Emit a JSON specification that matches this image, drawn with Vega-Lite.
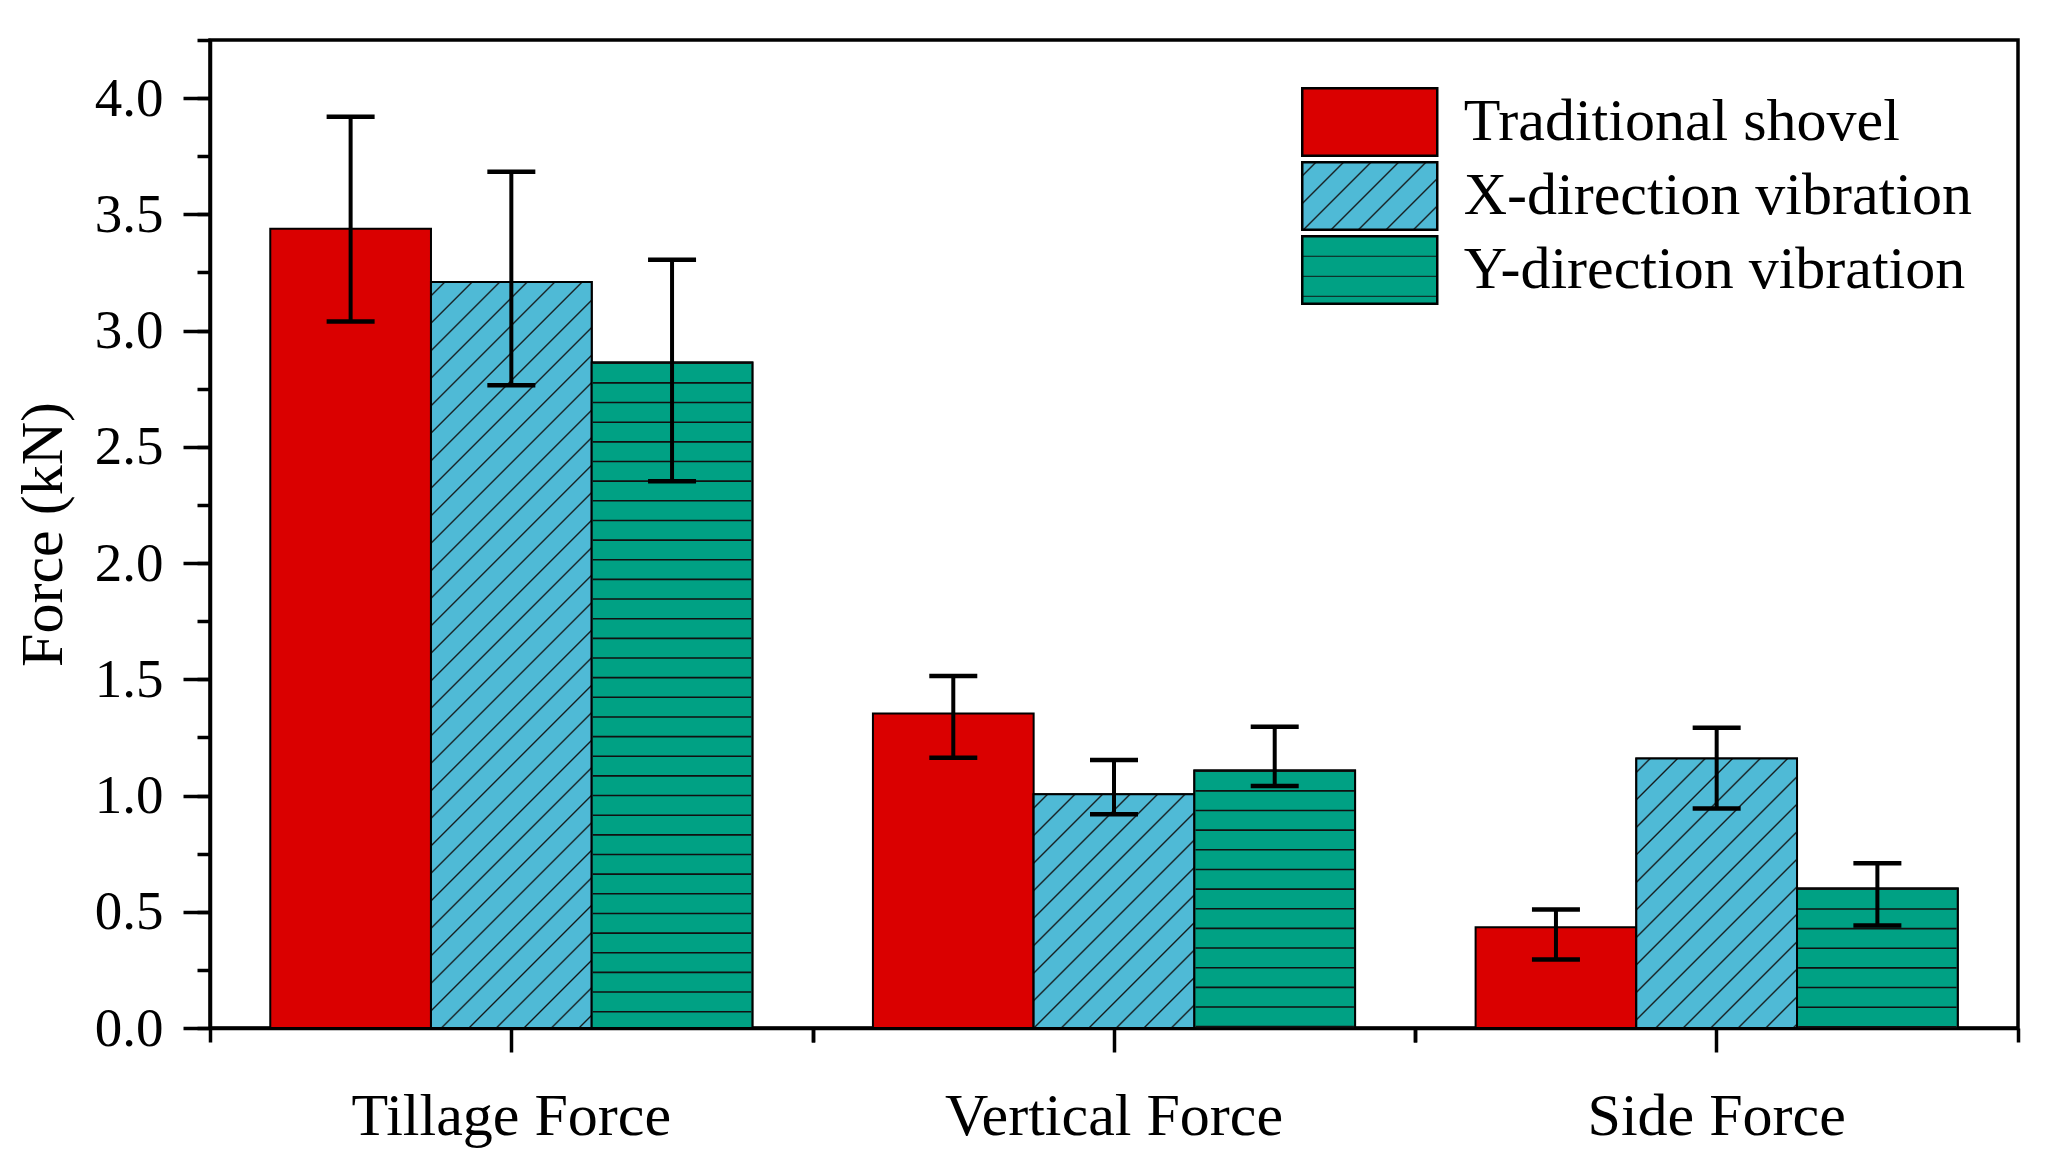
{
  "$schema": "https://vega.github.io/schema/vega-lite/v6.json",
  "width": 1808,
  "height": 988,
  "autosize": "none",
  "padding": {"left": 210, "top": 40, "right": 44, "bottom": 140},
  "background": "white",
  "config": {
    "view": {"stroke": "black", "strokeWidth": 3.5},
    "font": "Liberation Serif",
    "axis": {"grid": false, "domainColor": "black", "tickColor": "black", "labelColor": "black", "titleColor": "black", "labelFont": "Liberation Serif", "titleFont": "Liberation Serif"}
  },
  "data": {
    "values": [
      {"group": "Tillage Force", "series": "Traditional shovel", "value": 3.438, "lo": 3.039, "hi": 3.920},
      {"group": "Tillage Force", "series": "X-direction vibration", "value": 3.209, "lo": 2.765, "hi": 3.683},
      {"group": "Tillage Force", "series": "Y-direction vibration", "value": 2.863, "lo": 2.352, "hi": 3.305},
      {"group": "Vertical Force", "series": "Traditional shovel", "value": 1.353, "lo": 1.163, "hi": 1.514},
      {"group": "Vertical Force", "series": "X-direction vibration", "value": 1.005, "lo": 0.920, "hi": 1.153},
      {"group": "Vertical Force", "series": "Y-direction vibration", "value": 1.108, "lo": 1.041, "hi": 1.296},
      {"group": "Side Force", "series": "Traditional shovel", "value": 0.433, "lo": 0.295, "hi": 0.510},
      {"group": "Side Force", "series": "X-direction vibration", "value": 1.159, "lo": 0.944, "hi": 1.292},
      {"group": "Side Force", "series": "Y-direction vibration", "value": 0.600, "lo": 0.441, "hi": 0.709}
    ]
  },
  "encoding": {
    "x": {"field": "group", "type": "nominal", "sort": ["Tillage Force", "Vertical Force", "Side Force"], "scale": {"paddingInner": 0.2, "paddingOuter": 0.1}, "title": null, "axis": null},
    "xOffset": {"field": "series", "type": "nominal", "sort": ["Traditional shovel", "X-direction vibration", "Y-direction vibration"], "scale": {"paddingInner": 0, "paddingOuter": 0}},
    "y": {"field": "value", "type": "quantitative", "scale": {"domain": [0, 4.25], "nice": false}, "stack": null, "title": null, "axis": null}
  },
  "resolve": {"axis": {"x": "independent", "y": "independent"}},
  "layer": [
    {
      "mark": {"type": "bar", "stroke": "black", "strokeWidth": 2, "opacity": 1},
      "encoding": {
        "x": {"field": "group", "type": "nominal", "sort": ["Tillage Force", "Vertical Force", "Side Force"], "scale": {"paddingInner": 0.2, "paddingOuter": 0.1}, "title": null,
          "axis": {"orient": "bottom", "tickSize": 24, "tickWidth": 3.5, "domainWidth": 3.5, "labelFontSize": 60, "labelPadding": 35, "labelAngle": 0, "labelLimit": 0}},
        "y": {"field": "value", "type": "quantitative", "scale": {"domain": [0, 4.25], "nice": false}, "stack": null,
          "axis": {"orient": "left", "values": [0, 0.5, 1, 1.5, 2, 2.5, 3, 3.5, 4], "format": ".1f", "tickSize": 27, "tickWidth": 3.5, "domainWidth": 3.5, "labelFontSize": 55, "labelPadding": 20, "title": "Force (kN)", "titleFontSize": 60, "titleFontWeight": "normal", "titlePadding": 20}},
        "fill": {"field": "series", "type": "nominal",
          "scale": {"domain": ["Traditional shovel", "X-direction vibration", "Y-direction vibration"],
            "range": ["#DA0000",
              {"expr": "{'gradient':'linear','x1':0,'y1':0,'x2':1.2,'y2':0.6,'stops':[{'offset':0.0588,'color':'#4FBAD6'},{'offset':0.0679,'color':'#111'},{'offset':0.077,'color':'#4FBAD6'},{'offset':0.1946,'color':'#4FBAD6'},{'offset':0.2037,'color':'#111'},{'offset':0.2128,'color':'#4FBAD6'},{'offset':0.3305,'color':'#4FBAD6'},{'offset':0.3396,'color':'#111'},{'offset':0.3487,'color':'#4FBAD6'},{'offset':0.4663,'color':'#4FBAD6'},{'offset':0.4754,'color':'#111'},{'offset':0.4845,'color':'#4FBAD6'},{'offset':0.6021,'color':'#4FBAD6'},{'offset':0.6112,'color':'#111'},{'offset':0.6203,'color':'#4FBAD6'},{'offset':0.738,'color':'#4FBAD6'},{'offset':0.7471,'color':'#111'},{'offset':0.7562,'color':'#4FBAD6'},{'offset':0.8738,'color':'#4FBAD6'},{'offset':0.8829,'color':'#111'},{'offset':0.892,'color':'#4FBAD6'}]}"},
              {"expr": "{'gradient':'linear','x1':0,'y1':0,'x2':0,'y2':1,'stops':[{'offset':0.282,'color':'#00A184'},{'offset':0.296,'color':'#111'},{'offset':0.31,'color':'#00A184'},{'offset':0.579,'color':'#00A184'},{'offset':0.593,'color':'#111'},{'offset':0.607,'color':'#00A184'},{'offset':0.875,'color':'#00A184'},{'offset':0.889,'color':'#111'},{'offset':0.903,'color':'#00A184'}]}"}
            ]},
          "legend": {"orient": "none", "legendX": 1091, "legendY": 47, "title": null, "symbolType": "M-2,-1H2V1H-2Z", "symbolSize": 4556.25, "symbolStrokeColor": "black", "symbolStrokeWidth": 2.5, "symbolOffset": 33.75, "labelOffset": 59, "labelFontSize": 60, "labelFont": "Liberation Serif", "labelColor": "black", "labelLimit": 0, "rowPadding": -4, "padding": 0, "symbolOpacity": 1}
        }
      }
    },
    {
      "transform": [{"filter": "datum.series == 'X-direction vibration'"}],
      "mark": {"type": "bar", "stroke": "black", "strokeWidth": 2, "opacity": 1},
      "encoding": {
        "fill": {
          "condition": [
            {"test": "datum.group == 'Tillage Force'", "value": {"gradient": "linear", "x1": 0, "y1": 0, "x2": 0.2502, "y2": 1.1615, "stops": [
              {"offset": 0.0132, "color": "#4FBAD6"}, {"offset": 0.0152, "color": "#111"}, {"offset": 0.0172, "color": "#4FBAD6"},
              {"offset": 0.0435, "color": "#4FBAD6"}, {"offset": 0.0455, "color": "#111"}, {"offset": 0.0475, "color": "#4FBAD6"},
              {"offset": 0.0738, "color": "#4FBAD6"}, {"offset": 0.0758, "color": "#111"}, {"offset": 0.0778, "color": "#4FBAD6"},
              {"offset": 0.1042, "color": "#4FBAD6"}, {"offset": 0.1062, "color": "#111"}, {"offset": 0.1082, "color": "#4FBAD6"},
              {"offset": 0.1345, "color": "#4FBAD6"}, {"offset": 0.1365, "color": "#111"}, {"offset": 0.1385, "color": "#4FBAD6"},
              {"offset": 0.1648, "color": "#4FBAD6"}, {"offset": 0.1668, "color": "#111"}, {"offset": 0.1688, "color": "#4FBAD6"},
              {"offset": 0.1952, "color": "#4FBAD6"}, {"offset": 0.1972, "color": "#111"}, {"offset": 0.1992, "color": "#4FBAD6"},
              {"offset": 0.2255, "color": "#4FBAD6"}, {"offset": 0.2275, "color": "#111"}, {"offset": 0.2295, "color": "#4FBAD6"},
              {"offset": 0.2559, "color": "#4FBAD6"}, {"offset": 0.2579, "color": "#111"}, {"offset": 0.2599, "color": "#4FBAD6"},
              {"offset": 0.2862, "color": "#4FBAD6"}, {"offset": 0.2882, "color": "#111"}, {"offset": 0.2902, "color": "#4FBAD6"},
              {"offset": 0.3165, "color": "#4FBAD6"}, {"offset": 0.3185, "color": "#111"}, {"offset": 0.3205, "color": "#4FBAD6"},
              {"offset": 0.3469, "color": "#4FBAD6"}, {"offset": 0.3489, "color": "#111"}, {"offset": 0.3509, "color": "#4FBAD6"},
              {"offset": 0.3772, "color": "#4FBAD6"}, {"offset": 0.3792, "color": "#111"}, {"offset": 0.3812, "color": "#4FBAD6"},
              {"offset": 0.4075, "color": "#4FBAD6"}, {"offset": 0.4095, "color": "#111"}, {"offset": 0.4115, "color": "#4FBAD6"},
              {"offset": 0.4379, "color": "#4FBAD6"}, {"offset": 0.4399, "color": "#111"}, {"offset": 0.4419, "color": "#4FBAD6"},
              {"offset": 0.4682, "color": "#4FBAD6"}, {"offset": 0.4702, "color": "#111"}, {"offset": 0.4722, "color": "#4FBAD6"},
              {"offset": 0.4985, "color": "#4FBAD6"}, {"offset": 0.5005, "color": "#111"}, {"offset": 0.5025, "color": "#4FBAD6"},
              {"offset": 0.5289, "color": "#4FBAD6"}, {"offset": 0.5309, "color": "#111"}, {"offset": 0.5329, "color": "#4FBAD6"},
              {"offset": 0.5592, "color": "#4FBAD6"}, {"offset": 0.5612, "color": "#111"}, {"offset": 0.5632, "color": "#4FBAD6"},
              {"offset": 0.5896, "color": "#4FBAD6"}, {"offset": 0.5916, "color": "#111"}, {"offset": 0.5936, "color": "#4FBAD6"},
              {"offset": 0.6199, "color": "#4FBAD6"}, {"offset": 0.6219, "color": "#111"}, {"offset": 0.6239, "color": "#4FBAD6"},
              {"offset": 0.6502, "color": "#4FBAD6"}, {"offset": 0.6522, "color": "#111"}, {"offset": 0.6542, "color": "#4FBAD6"},
              {"offset": 0.6806, "color": "#4FBAD6"}, {"offset": 0.6826, "color": "#111"}, {"offset": 0.6846, "color": "#4FBAD6"},
              {"offset": 0.7109, "color": "#4FBAD6"}, {"offset": 0.7129, "color": "#111"}, {"offset": 0.7149, "color": "#4FBAD6"},
              {"offset": 0.7412, "color": "#4FBAD6"}, {"offset": 0.7432, "color": "#111"}, {"offset": 0.7452, "color": "#4FBAD6"},
              {"offset": 0.7716, "color": "#4FBAD6"}, {"offset": 0.7736, "color": "#111"}, {"offset": 0.7756, "color": "#4FBAD6"},
              {"offset": 0.8019, "color": "#4FBAD6"}, {"offset": 0.8039, "color": "#111"}, {"offset": 0.8059, "color": "#4FBAD6"},
              {"offset": 0.8323, "color": "#4FBAD6"}, {"offset": 0.8343, "color": "#111"}, {"offset": 0.8363, "color": "#4FBAD6"},
              {"offset": 0.8626, "color": "#4FBAD6"}, {"offset": 0.8646, "color": "#111"}, {"offset": 0.8666, "color": "#4FBAD6"},
              {"offset": 0.8929, "color": "#4FBAD6"}, {"offset": 0.8949, "color": "#111"}, {"offset": 0.8969, "color": "#4FBAD6"},
              {"offset": 0.9233, "color": "#4FBAD6"}, {"offset": 0.9253, "color": "#111"}, {"offset": 0.9273, "color": "#4FBAD6"},
              {"offset": 0.9536, "color": "#4FBAD6"}, {"offset": 0.9556, "color": "#111"}, {"offset": 0.9576, "color": "#4FBAD6"},
              {"offset": 0.9839, "color": "#4FBAD6"}, {"offset": 0.9859, "color": "#111"}, {"offset": 0.9879, "color": "#4FBAD6"}
            ]}},
            {"test": "datum.group == 'Vertical Force'", "value": {"gradient": "linear", "x1": 0, "y1": 0, "x2": 0.7882, "y2": 1.1457, "stops": [
              {"offset": 0.0302, "color": "#4FBAD6"}, {"offset": 0.0349, "color": "#111"}, {"offset": 0.0396, "color": "#4FBAD6"},
              {"offset": 0.0999, "color": "#4FBAD6"}, {"offset": 0.1046, "color": "#111"}, {"offset": 0.1093, "color": "#4FBAD6"},
              {"offset": 0.1697, "color": "#4FBAD6"}, {"offset": 0.1744, "color": "#111"}, {"offset": 0.1791, "color": "#4FBAD6"},
              {"offset": 0.2395, "color": "#4FBAD6"}, {"offset": 0.2442, "color": "#111"}, {"offset": 0.2489, "color": "#4FBAD6"},
              {"offset": 0.3092, "color": "#4FBAD6"}, {"offset": 0.3139, "color": "#111"}, {"offset": 0.3186, "color": "#4FBAD6"},
              {"offset": 0.3790, "color": "#4FBAD6"}, {"offset": 0.3837, "color": "#111"}, {"offset": 0.3884, "color": "#4FBAD6"},
              {"offset": 0.4487, "color": "#4FBAD6"}, {"offset": 0.4534, "color": "#111"}, {"offset": 0.4581, "color": "#4FBAD6"},
              {"offset": 0.5185, "color": "#4FBAD6"}, {"offset": 0.5232, "color": "#111"}, {"offset": 0.5279, "color": "#4FBAD6"},
              {"offset": 0.5882, "color": "#4FBAD6"}, {"offset": 0.5929, "color": "#111"}, {"offset": 0.5976, "color": "#4FBAD6"},
              {"offset": 0.6580, "color": "#4FBAD6"}, {"offset": 0.6627, "color": "#111"}, {"offset": 0.6674, "color": "#4FBAD6"},
              {"offset": 0.7278, "color": "#4FBAD6"}, {"offset": 0.7325, "color": "#111"}, {"offset": 0.7372, "color": "#4FBAD6"},
              {"offset": 0.7975, "color": "#4FBAD6"}, {"offset": 0.8022, "color": "#111"}, {"offset": 0.8069, "color": "#4FBAD6"},
              {"offset": 0.8673, "color": "#4FBAD6"}, {"offset": 0.8720, "color": "#111"}, {"offset": 0.8767, "color": "#4FBAD6"},
              {"offset": 0.9370, "color": "#4FBAD6"}, {"offset": 0.9417, "color": "#111"}, {"offset": 0.9464, "color": "#4FBAD6"}
            ]}},
            {"test": "datum.group == 'Side Force'", "value": {"gradient": "linear", "x1": 0, "y1": 0, "x2": 0.7024, "y2": 1.1775, "stops": [
              {"offset": 0.0277, "color": "#4FBAD6"}, {"offset": 0.0320, "color": "#111"}, {"offset": 0.0363, "color": "#4FBAD6"},
              {"offset": 0.0916, "color": "#4FBAD6"}, {"offset": 0.0959, "color": "#111"}, {"offset": 0.1002, "color": "#4FBAD6"},
              {"offset": 0.1556, "color": "#4FBAD6"}, {"offset": 0.1599, "color": "#111"}, {"offset": 0.1642, "color": "#4FBAD6"},
              {"offset": 0.2195, "color": "#4FBAD6"}, {"offset": 0.2238, "color": "#111"}, {"offset": 0.2281, "color": "#4FBAD6"},
              {"offset": 0.2835, "color": "#4FBAD6"}, {"offset": 0.2878, "color": "#111"}, {"offset": 0.2921, "color": "#4FBAD6"},
              {"offset": 0.3475, "color": "#4FBAD6"}, {"offset": 0.3518, "color": "#111"}, {"offset": 0.3561, "color": "#4FBAD6"},
              {"offset": 0.4114, "color": "#4FBAD6"}, {"offset": 0.4157, "color": "#111"}, {"offset": 0.4200, "color": "#4FBAD6"},
              {"offset": 0.4754, "color": "#4FBAD6"}, {"offset": 0.4797, "color": "#111"}, {"offset": 0.4840, "color": "#4FBAD6"},
              {"offset": 0.5393, "color": "#4FBAD6"}, {"offset": 0.5436, "color": "#111"}, {"offset": 0.5479, "color": "#4FBAD6"},
              {"offset": 0.6033, "color": "#4FBAD6"}, {"offset": 0.6076, "color": "#111"}, {"offset": 0.6119, "color": "#4FBAD6"},
              {"offset": 0.6672, "color": "#4FBAD6"}, {"offset": 0.6715, "color": "#111"}, {"offset": 0.6758, "color": "#4FBAD6"},
              {"offset": 0.7312, "color": "#4FBAD6"}, {"offset": 0.7355, "color": "#111"}, {"offset": 0.7398, "color": "#4FBAD6"},
              {"offset": 0.7951, "color": "#4FBAD6"}, {"offset": 0.7994, "color": "#111"}, {"offset": 0.8037, "color": "#4FBAD6"},
              {"offset": 0.8591, "color": "#4FBAD6"}, {"offset": 0.8634, "color": "#111"}, {"offset": 0.8677, "color": "#4FBAD6"},
              {"offset": 0.9230, "color": "#4FBAD6"}, {"offset": 0.9273, "color": "#111"}, {"offset": 0.9316, "color": "#4FBAD6"},
              {"offset": 0.9870, "color": "#4FBAD6"}, {"offset": 0.9913, "color": "#111"}, {"offset": 0.9956, "color": "#4FBAD6"}
            ]}}
          ],
          "value": "#4FBAD6"
        }
      }
    },
    {
      "transform": [{"filter": "datum.series == 'Y-direction vibration'"}],
      "mark": {"type": "bar", "stroke": "black", "strokeWidth": 2, "opacity": 1, "fill": "#00A184"},
      "encoding": {}
    },
    {
      "transform": [{"filter": "datum.series == 'Y-direction vibration'"}],
      "mark": {"type": "rule", "color": "#111", "strokeWidth": 158.5, "strokeDash": [1.6, 18.05], "opacity": 1},
      "encoding": {
        "y2": {"datum": 0}
      }
    },
    {
      "mark": {"type": "rule", "color": "black", "strokeWidth": 4, "opacity": 1},
      "encoding": {
        "x": {"field": "group", "type": "nominal", "sort": ["Tillage Force", "Vertical Force", "Side Force"], "scale": {"paddingInner": 0.2, "paddingOuter": 0.1}, "title": null,
          "axis": {"orient": "bottom", "labels": false, "domain": false, "bandPosition": 1, "tickOffset": 60.267, "tickSize": 14, "tickWidth": 3.5, "title": null}},
        "y": {"field": "lo", "type": "quantitative", "scale": {"domain": [0, 4.25], "nice": false}, "title": null,
          "axis": {"orient": "left", "values": [0, 0.25, 0.5, 0.75, 1, 1.25, 1.5, 1.75, 2, 2.25, 2.5, 2.75, 3, 3.25, 3.5, 3.75, 4, 4.25], "labels": false, "domain": false, "tickSize": 13, "tickWidth": 3.5, "title": null}},
        "y2": {"field": "hi"}
      }
    },
    {
      "mark": {"type": "tick", "orient": "horizontal", "color": "black", "size": 48, "thickness": 4.5, "opacity": 1},
      "encoding": {
        "x": {"field": "group", "type": "nominal", "sort": ["Tillage Force", "Vertical Force", "Side Force"], "scale": {"paddingInner": 0.2, "paddingOuter": 0.1}, "title": null,
          "axis": {"orient": "bottom", "labels": false, "domain": false, "bandPosition": 0, "tickOffset": -60.267, "tickSize": 14, "tickWidth": 3.5, "title": null}},
        "y": {"field": "hi", "type": "quantitative", "scale": {"domain": [0, 4.25], "nice": false}, "title": null, "axis": null}
      }
    },
    {
      "mark": {"type": "tick", "orient": "horizontal", "color": "black", "size": 48, "thickness": 4.5, "opacity": 1},
      "encoding": {
        "y": {"field": "lo", "type": "quantitative", "scale": {"domain": [0, 4.25], "nice": false}, "title": null, "axis": null}
      }
    }
  ]
}
